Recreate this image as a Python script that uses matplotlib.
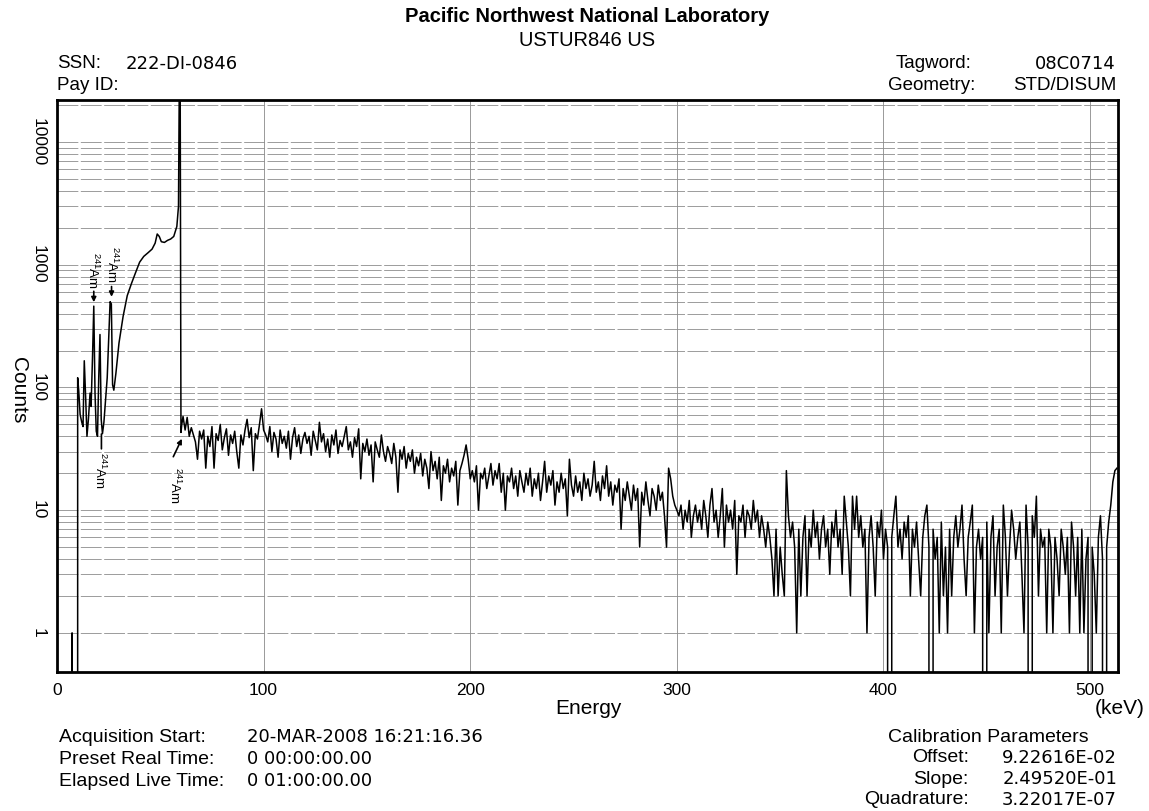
import numpy as np
import matplotlib
matplotlib.use("Agg")
import matplotlib.pyplot as plt

plt.rcParams['font.family'] = ['Liberation Sans', 'DejaVu Sans']
plt.rcParams['mathtext.fontset'] = 'custom'
plt.rcParams['mathtext.rm'] = 'Liberation Sans'

# low energy part (keV, counts), read point by point
low_energy = [7.0, 7.3, 7.6, 9.6, 10.0, 10.5, 11.2, 12.0, 12.6, 13.2, 13.9, 14.5, 15.2, 16.0,
              16.5, 17.2, 17.8, 18.4, 19.0, 19.6, 20.2, 20.8, 21.4, 22.0, 22.7, 23.5, 24.3,
              25.0, 25.7, 26.3, 26.9, 27.5, 28.5, 30.0, 32.0, 34.0, 36.0, 38.0, 40.0, 42.0,
              44.0, 46.0, 47.5, 48.5, 49.5, 50.5, 52.0, 53.5, 55.0, 56.5, 58.0, 58.8, 59.3,
              59.6, 60.0, 60.4]
low_counts = [0, 1, 0, 0, 120, 95, 60, 52, 48, 165, 80, 40, 55, 90,
              70, 180, 460, 90, 44, 40, 120, 270, 55, 42, 52, 80, 120,
              240, 500, 480, 105, 95, 130, 230, 380, 560, 700, 860, 1050, 1170,
              1250, 1340, 1500, 1780, 1700, 1540, 1520, 1580, 1620, 1700, 2050, 3000, 60000,
              40000, 43, 50]

# counts per keV from 61 keV to 513 keV
high_start_kev = 61
high_counts = [
    58, 45, 57, 40, 47, 41, 36, 26, 44, 38,
    45, 22, 40, 33, 48, 22, 42, 37, 50, 31,
    39, 46, 28, 41, 35, 44, 30, 22, 41, 34,
    45, 55, 39, 47, 21, 42, 38, 50, 67, 45,
    41, 36, 48, 30, 43, 38, 27, 45, 35, 40,
    32, 44, 26, 39, 47, 33, 41, 29, 38, 43,
    35, 40, 28, 44, 37, 31, 52, 36, 42, 30,
    38, 27, 41, 34, 45, 29, 37, 33, 40, 48,
    31, 36, 27, 39, 33, 46, 18, 35, 30, 38,
    28, 34, 17, 36, 31, 27, 41, 30, 25, 33,
    29, 24, 35, 27, 14, 31, 26, 33, 22, 29,
    25, 31, 20, 27, 23, 29, 19, 26, 22, 15,
    30, 21, 25, 18, 27, 12, 23, 20, 26, 17,
    22, 19, 25, 11, 21, 24, 28, 34, 26, 18,
    21, 17, 23, 10, 20, 18, 22, 15, 19, 24,
    16, 21, 18, 24, 14, 20, 10, 19, 17, 22,
    15, 19, 13, 21, 17, 14, 20, 16, 22, 13,
    18, 15, 20, 12, 17, 25, 14, 19, 16, 21,
    11, 17, 14, 20, 15, 18, 9, 26, 16, 13,
    19, 14, 17, 12, 20, 15, 18, 13, 16, 25,
    14, 17, 12, 19, 15, 23, 13, 17, 11, 16,
    14, 18, 7, 15, 12, 17, 13, 10, 16, 12,
    15, 5, 14, 11, 17, 12, 9, 15, 13, 10,
    16, 12, 14, 9, 5, 22, 18, 13, 11, 10,
    9, 11, 7, 10, 8, 12, 6, 9, 11, 8,
    10, 7, 12, 9, 6, 11, 15, 8, 10, 6,
    9, 15, 5, 11, 8, 10, 7, 12, 3, 9,
    8, 11, 6, 10, 9, 7, 12, 8, 10, 6,
    9, 7, 5, 8, 6, 4, 2, 7, 2, 5,
    3, 2, 21, 9, 6, 8, 5, 1, 7, 2,
    6, 9, 2, 7, 5, 10, 6, 8, 4, 7,
    9, 5, 7, 3, 8, 6, 10, 5, 7, 3,
    13, 8, 5, 2, 13, 7, 13, 6, 9, 5,
    7, 1, 6, 9, 5, 2, 8, 6, 10, 4,
    7, 5, 0, 6, 9, 13, 5, 7, 4, 8,
    6, 9, 2, 7, 5, 8, 4, 2, 6, 9,
    11, 5, 0, 7, 4, 6, 1, 8, 2, 5,
    1, 7, 2, 6, 9, 5, 7, 11, 4, 2,
    6, 8, 11, 1, 5, 7, 4, 6, 0, 8,
    1, 6, 9, 2, 5, 7, 1, 11, 6, 2,
    5, 10, 7, 4, 6, 8, 3, 1, 11, 5,
    0, 9, 6, 13, 2, 7, 5, 6, 1, 7,
    5, 1, 6, 4, 2, 7, 5, 3, 6, 1,
    8, 5, 2, 6, 1, 7, 1, 4, 6, 0,
    5, 3, 1, 6, 9, 4, 0, 5, 8, 11,
    17, 21, 22,
]

x_ticks = [0, 100, 200, 300, 400, 500]
y_ticks = [1, 10, 100, 1000, 10000]

W, H = 1149, 811
fig = plt.figure(figsize=(W / 100, H / 100), dpi=100)
ax = fig.add_axes([57 / W, 1 - 672 / H, (1118 - 57) / W, (672 - 100) / H])


def px(x, y):
    return x / W, 1 - y / H


high_energy = np.arange(len(high_counts)) + high_start_kev
energy = np.concatenate([low_energy, high_energy])
counts = np.concatenate([low_counts, high_counts])

ax.set_yscale('log', nonpositive='clip')
ax.plot(energy, counts, color='black', lw=1.1)
ax.set_xlim(0, 513.5)
ax.set_ylim(0.48, 22000)

# grid
for xv in x_ticks[1:]:
    ax.axvline(xv, color='0.6', lw=0.7, zorder=0)
for dec in [1, 10, 100, 1000, 10000]:
    for m in range(1, 10):
        yv = dec * m
        if yv < 22000:
            ax.axhline(yv, color='0.55', lw=0.6, ls=(0, (25, 3)), zorder=0)

ax.set_xticks(x_ticks)
ax.set_xticklabels([str(v) for v in x_ticks], fontsize=12.5)
ax.set_yticks(y_ticks)
ax.set_yticklabels([str(v) for v in y_ticks], fontsize=12.5, rotation=270, va='center')
ax.yaxis.set_minor_locator(matplotlib.ticker.NullLocator())
ax.tick_params(length=0, pad=8)
for s in ax.spines.values():
    s.set_linewidth(2)

# 241Am markers
am = r'$^{241}$Am'
ax.text(17.2, 900, am, rotation=270, fontsize=9.5, ha='center', va='center')
ax.annotate('', xy=(17.8, 470), xytext=(17.8, 640),
            arrowprops=dict(arrowstyle='-|>', color='black', lw=1.2, mutation_scale=7))
ax.text(26.6, 1000, am, rotation=270, fontsize=9.5, ha='center', va='center')
ax.annotate('', xy=(26.4, 520), xytext=(26.4, 700),
            arrowprops=dict(arrowstyle='-|>', color='black', lw=1.2, mutation_scale=7))
ax.text(20.8, 21, am, rotation=270, fontsize=9.5, ha='center', va='center')
ax.annotate('', xy=(21.5, 44), xytext=(21.5, 30),
            arrowprops=dict(arrowstyle='-', color='black', lw=1.2))
ax.text(57.0, 16, am, rotation=270, fontsize=9.5, ha='center', va='center')
ax.annotate('', xy=(61.0, 40), xytext=(55.7, 26),
            arrowprops=dict(arrowstyle='-|>', color='black', lw=1.2, mutation_scale=7))

# header
fig.text(*px(587, 16), 'Pacific Northwest National Laboratory', fontsize=14.5,
         fontweight='bold', ha='center', va='center')
fig.text(*px(587, 41), 'USTUR846 US', fontsize=14.5, ha='center', va='center')
fig.text(*px(57, 64), 'SSN:', fontsize=13.5, va='center')
fig.text(*px(126, 64), '222-DI-0846', fontsize=13, family='DejaVu Sans', va='center')
fig.text(*px(57, 86), 'Pay ID:', fontsize=13.5, va='center')
fig.text(*px(971, 64), 'Tagword:', fontsize=13.5, ha='right', va='center')
fig.text(*px(1116, 64), '08C0714', fontsize=13, family='DejaVu Sans', ha='right', va='center')
fig.text(*px(975, 86), 'Geometry:', fontsize=13.5, ha='right', va='center')
fig.text(*px(1116, 86), 'STD/DISUM', fontsize=13.5, ha='right', va='center')

# axis labels
fig.text(*px(18, 390), 'Counts', fontsize=15, rotation=270, ha='center', va='center')
fig.text(*px(588, 708), 'Energy', fontsize=15, ha='center', va='center')
fig.text(*px(1145, 708), '(keV)', fontsize=15, ha='right', va='center')

# footer
left_rows = [('Acquisition Start:', '20-MAR-2008 16:21:16.36'),
             ('Preset Real Time:', '0 00:00:00.00'),
             ('Elapsed Live Time:', '0 01:00:00.00')]
for i, (k, v) in enumerate(left_rows):
    fig.text(*px(59, 737 + 22 * i), k, fontsize=14, va='center')
    fig.text(*px(247, 737 + 22 * i), v, fontsize=13, family='DejaVu Sans', va='center')

fig.text(*px(988, 737), 'Calibration Parameters', fontsize=14, ha='center', va='center')
right_rows = [('Offset:', '9.22616E-02'), ('Slope:', '2.49520E-01'),
              ('Quadrature:', '3.22017E-07')]
for i, (k, v) in enumerate(right_rows):
    fig.text(*px(969, 758 + 21 * i), k, fontsize=14, ha='right', va='center')
    fig.text(*px(1117, 758 + 21 * i), v, fontsize=13, family='DejaVu Sans',
             ha='right', va='center')

fig.savefig('out.png', dpi=100)
